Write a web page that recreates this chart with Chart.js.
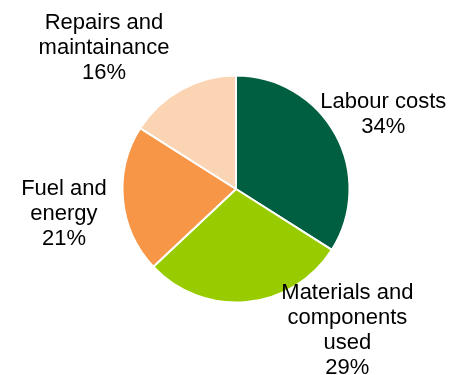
<!DOCTYPE html>
<html>
<head>
<meta charset="utf-8">
<script src="https://cdn.jsdelivr.net/npm/chart.js@4/dist/chart.umd.min.js"></script>
<style>
  html, body { margin: 0; padding: 0; background: #ffffff; }
  #wrap { width: 450px; height: 375px; }
</style>
</head>
<body>
<div id="wrap"><canvas id="pie" width="450" height="375"></canvas></div>
<script>
// Cost structure shares (percent)
const categories = [
  ['Labour costs'],
  ['Materials and', 'components', 'used'],
  ['Fuel and', 'energy'],
  ['Repairs and', 'maintainance']
];
const shares = [34, 29, 21, 16];
const sliceColors = ['#005F41', '#99CC00', '#F79646', '#FBD4B4'];

// Label block centres, relative to the pie centre in units of its radius
const labelOffsets = [
  [1.298, -0.656],
  [0.981, 1.245],
  [-1.516, 0.219],
  [-1.163, -1.241]
];

const sliceLabels = {
  id: 'sliceLabels',
  afterDatasetsDraw(chart) {
    const ctx = chart.ctx;
    const meta = chart.getDatasetMeta(0);
    const lineGap = 25;
    ctx.save();
    ctx.font = '22px "Liberation Sans", Arial, sans-serif';
    ctx.fillStyle = '#000000';
    ctx.textAlign = 'center';
    ctx.textBaseline = 'middle';
    meta.data.forEach((arc, i) => {
      const lines = categories[i].concat([shares[i] + '%']);
      const cx = arc.x + labelOffsets[i][0] * arc.outerRadius;
      const cy = arc.y + labelOffsets[i][1] * arc.outerRadius;
      const top = cy - (lines.length - 1) * lineGap / 2;
      lines.forEach((t, k) => ctx.fillText(t, cx, top + k * lineGap));
    });
    ctx.restore();
  }
};

new Chart(document.getElementById('pie'), {
  type: 'pie',
  data: {
    labels: categories.map(c => c.join(' ')),
    datasets: [{
      data: shares,
      backgroundColor: sliceColors,
      borderColor: '#ffffff',
      borderWidth: 2,
      radius: 113.5
    }]
  },
  options: {
    responsive: false,
    animation: false,
    layout: { padding: { left: 22, right: 0, top: 3, bottom: 0 } },
    plugins: {
      legend: { display: false },
      tooltip: { enabled: false }
    }
  },
  plugins: [sliceLabels]
});
</script>
</body>
</html>
